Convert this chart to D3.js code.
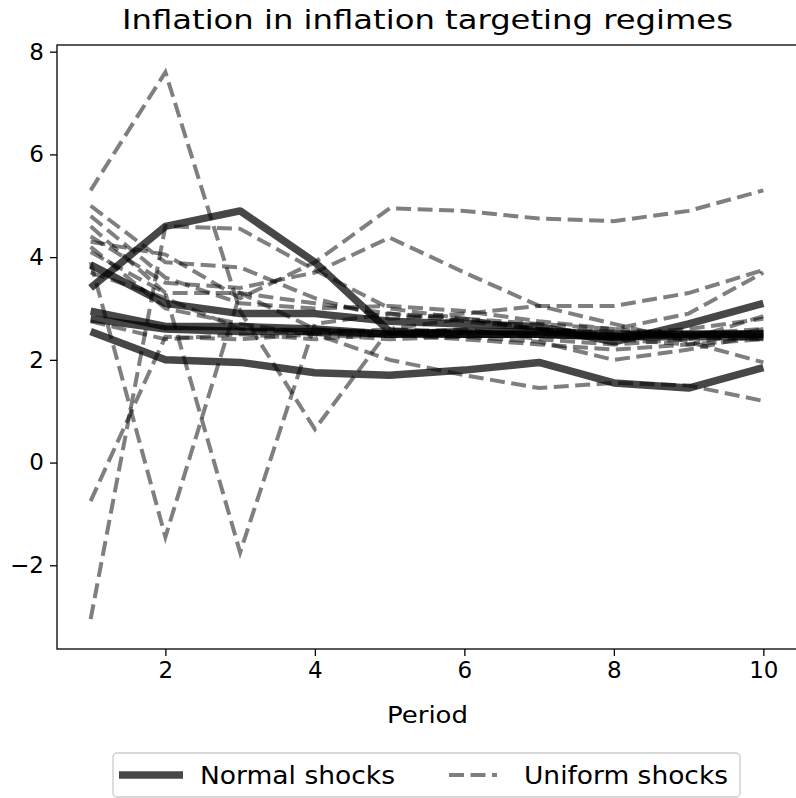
<!DOCTYPE html>
<html>
<head>
<meta charset="utf-8">
<script src="https://cdn.jsdelivr.net/npm/d3@7"></script>
<style>
  body { margin: 0; background: #fff; }
  svg text { font-family: "DejaVu Sans", sans-serif; fill: #000; }
</style>
</head>
<body>
<div id="chart"></div>
<script>
// periods on the x axis
const periods = [1, 2, 3, 4, 5, 6, 7, 8, 9, 10];

// normal shock runs (solid lines)
const normalSeries = [
    [3.4, 4.6, 4.9, 3.9, 2.55, 2.5, 2.5, 2.45, 2.5, 2.5],
    [2.55, 2.0, 1.95, 1.75, 1.7, 1.8, 1.95, 1.55, 1.45, 1.85],
    [3.85, 3.1, 2.9, 2.9, 2.75, 2.7, 2.65, 2.35, 2.7, 3.1],
    [2.95, 2.65, 2.65, 2.6, 2.5, 2.55, 2.55, 2.5, 2.5, 2.5],
    [2.8, 2.6, 2.55, 2.55, 2.5, 2.5, 2.5, 2.45, 2.45, 2.45]
];

// uniform shock runs (dashed lines)
const uniformSeries = [
    [5.3, 7.6, 2.95, 0.65, 2.6, 2.8, 2.7, 2.6, 2.5, 2.6],
    [-3.05, 4.6, 4.55, 3.75, 3.0, 2.8, 2.6, 2.5, 2.6, 2.8],
    [3.9, -1.45, 3.3, 2.6, 2.5, 2.4, 2.3, 2.2, 2.3, 2.4],
    [4.1, 3.3, -1.75, 2.7, 2.9, 2.75, 2.6, 2.55, 2.45, 2.4],
    [-0.75, 2.45, 2.4, 2.5, 2.6, 2.55, 2.5, 2.45, 2.5, 2.55],
    [4.3, 4.05, 3.2, 3.9, 4.95, 4.9, 4.75, 4.7, 4.9, 5.3],
    [4.4, 3.5, 3.4, 3.7, 4.38, 3.7, 3.05, 2.7, 2.35, 1.95],
    [4.2, 3.0, 2.7, 2.5, 2.0, 1.7, 1.45, 1.55, 1.5, 1.2],
    [4.8, 3.6, 3.1, 3.0, 3.05, 2.95, 2.75, 2.6, 2.9, 3.7],
    [5.0, 3.9, 3.8, 3.2, 2.8, 2.9, 3.05, 3.05, 3.3, 3.75],
    [3.7, 3.2, 2.6, 2.5, 2.4, 2.45, 2.35, 2.0, 2.2, 2.5],
    [2.75, 2.4, 2.5, 2.4, 2.5, 2.6, 2.4, 2.3, 2.4, 2.85],
    [4.6, 3.3, 3.3, 3.1, 2.9, 2.8, 2.6, 2.4, 2.3, 2.6]
];

const xTicks = [2, 4, 6, 8, 10];
const yTicks = [-2, 0, 2, 4, 6, 8];
const legendLabels = ["Normal shocks", "Uniform shocks"];

const width = 796, height = 798;
const plot = { left: 57, right: 797, top: 45, bottom: 649 };

const svg = d3.select("#chart")
    .append("svg")
    .attr("width", width)
    .attr("height", height);

const x = d3.scaleLinear().domain([0.55, 10.45]).range([plot.left, plot.right]);
const y = d3.scaleLinear().domain([-3.63, 8.13]).range([plot.bottom, plot.top]);

const line = d3.line()
    .x(function(d, i) { return x(periods[i]); })
    .y(function(d) { return y(d); });

const lines = svg.append("g");

// Uniform shocks first, normal shocks on top
lines.selectAll(".uniform")
    .data(uniformSeries)
    .enter()
    .append("path")
    .attr("class", "uniform")
    .attr("d", line)
    .attr("fill", "none")
    .attr("stroke", "#000")
    .attr("stroke-opacity", 0.5)
    .attr("stroke-width", 4)
    .attr("stroke-dasharray", "15,6.5");

lines.selectAll(".normal")
    .data(normalSeries)
    .enter()
    .append("path")
    .attr("class", "normal")
    .attr("d", line)
    .attr("fill", "none")
    .attr("stroke", "#000")
    .attr("stroke-opacity", 0.72)
    .attr("stroke-width", 7.5)
    .attr("stroke-linejoin", "round");

// Axes
const xAxis = svg.append("g")
    .attr("transform", "translate(0," + plot.bottom + ")")
    .call(d3.axisBottom(x).tickValues(xTicks).tickSize(7).tickPadding(6).tickSizeOuter(0));
const yAxis = svg.append("g")
    .attr("transform", "translate(" + plot.left + ",0)")
    .call(d3.axisLeft(y).tickValues(yTicks).tickSize(7).tickPadding(6).tickSizeOuter(0)
        .tickFormat(function(d) { return d < 0 ? "\u2212" + Math.abs(d) : d; }));
[xAxis, yAxis].forEach(function(ax) {
    ax.selectAll("text").attr("font-size", 23).attr("font-family", "DejaVu Sans");
    ax.selectAll("line").attr("stroke", "#000").attr("stroke-width", 1.3);
    ax.select(".domain").remove();
});

// Frame
svg.append("rect")
    .attr("x", plot.left)
    .attr("y", plot.top)
    .attr("width", plot.right - plot.left)
    .attr("height", plot.bottom - plot.top)
    .attr("fill", "none")
    .attr("stroke", "#000")
    .attr("stroke-width", 1.3);

// Title and axis label (the source image is a little wider than tall, so stretch text)
svg.append("text")
    .attr("x", 122)
    .attr("y", 29)
    .attr("font-size", 27)
    .attr("textLength", 611)
    .attr("lengthAdjust", "spacingAndGlyphs")
    .text("Inflation in inflation targeting regimes");

svg.append("text")
    .attr("x", 387)
    .attr("y", 723)
    .attr("font-size", 23)
    .attr("textLength", 81)
    .attr("lengthAdjust", "spacingAndGlyphs")
    .text("Period");

// Legend
const legend = svg.append("g");
legend.append("rect")
    .attr("x", 113)
    .attr("y", 753)
    .attr("width", 627)
    .attr("height", 44)
    .attr("rx", 4)
    .attr("fill", "#fff")
    .attr("stroke", "#ccc")
    .attr("stroke-width", 1.3);
legend.append("line")
    .attr("x1", 119).attr("x2", 183)
    .attr("y1", 775).attr("y2", 775)
    .attr("stroke", "#000")
    .attr("stroke-opacity", 0.72)
    .attr("stroke-width", 7.5);
legend.append("line")
    .attr("x1", 449).attr("x2", 497)
    .attr("y1", 775).attr("y2", 775)
    .attr("stroke", "#000")
    .attr("stroke-opacity", 0.5)
    .attr("stroke-width", 4)
    .attr("stroke-dasharray", "15,6.5");
legend.append("text")
    .attr("x", 200)
    .attr("y", 784)
    .attr("font-size", 24)
    .attr("textLength", 195)
    .attr("lengthAdjust", "spacingAndGlyphs")
    .text(legendLabels[0]);
legend.append("text")
    .attr("x", 524)
    .attr("y", 784)
    .attr("font-size", 24)
    .attr("textLength", 204)
    .attr("lengthAdjust", "spacingAndGlyphs")
    .text(legendLabels[1]);
</script>
</body>
</html>
